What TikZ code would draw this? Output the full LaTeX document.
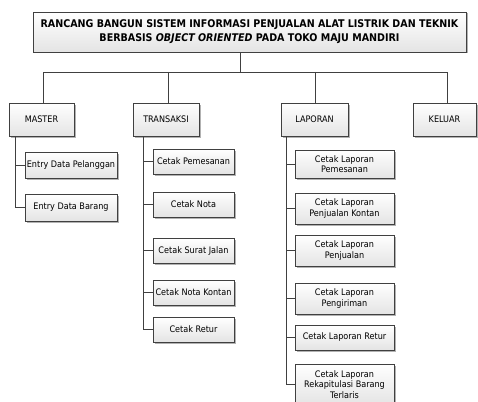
\documentclass[tikz,border=0pt]{standalone}
\usepackage{fontspec}
\setmainfont{DejaVu Sans Condensed}
\usetikzlibrary{shadows}
\definecolor{edge}{HTML}{404040}
\definecolor{boxbot}{HTML}{E4E4E4}
\begin{document}
\begin{tikzpicture}[x=1pt,y=-1pt,
  box/.style={draw=edge, line width=0.7pt, top color=white, bottom color=boxbot,
    drop shadow={shadow xshift=1.5pt, shadow yshift=-1.5pt, fill=black, opacity=0.3},
    align=center, inner sep=1pt, font=\fontsize{9}{10.5}\selectfont},
  titlebox/.style={box, font=\fontsize{10.6}{14}\selectfont\bfseries},
  link/.style={draw=edge, line width=0.7pt}]
\useasboundingbox (0,0) rectangle (478,401);

% title
\node[titlebox, minimum width=433pt, minimum height=40pt] (title) at (249.5,32)
  {RANCANG BANGUN SISTEM INFORMASI PENJUALAN ALAT LISTRIK DAN TEKNIK\\
   BERBASIS \textit{OBJECT ORIENTED} PADA TOKO MAJU MANDIRI};

% level 1
\node[box, minimum width=65pt, minimum height=33pt] (master) at (41.5,119.5) {MASTER};
\node[box, minimum width=66pt, minimum height=33pt] (trans) at (166,119.5) {TRANSAKSI};
\node[box, minimum width=67pt, minimum height=33pt] (lap) at (314.5,119.5) {LAPORAN};
\node[box, minimum width=63pt, minimum height=33pt] (kel) at (444.5,119.5) {KELUAR};

% bus
\coordinate (tj) at (240,72);
\coordinate (b1) at (43,72);
\coordinate (b2) at (168,72);
\coordinate (b3) at (315,72);
\coordinate (b4) at (447,72);
\draw[link] (title.south -| tj) -- (tj);
\draw[link] (master.north -| b1) -- (b1) -- (b4) -- (kel.north -| b4);
\draw[link] (b2) -- (trans.north -| b2);
\draw[link] (b3) -- (lap.north -| b3);

% master children
\node[box, minimum width=92pt, minimum height=26pt] (edp) at (71,165) {Entry Data Pelanggan};
\node[box, minimum width=92pt, minimum height=27pt] (edb) at (71,207.5) {Entry Data Barang};
\coordinate (mv) at (15,136);
\draw[link] (master.south -| mv) |- (edb.west);
\draw[link] (mv |- edp.west) -- (edp.west);

% transaksi children
\node[box, minimum width=81pt, minimum height=25pt] (tp) at (193.5,161.5) {Cetak Pemesanan};
\node[box, minimum width=81pt, minimum height=25pt] (tn) at (193.5,204.5) {Cetak Nota};
\node[box, minimum width=81pt, minimum height=25pt] (ts) at (193.5,250.5) {Cetak Surat Jalan};
\node[box, minimum width=81pt, minimum height=25pt] (tk) at (193.5,292.5) {Cetak Nota Kontan};
\node[box, minimum width=81pt, minimum height=25pt] (tr) at (193.5,329.5) {Cetak Retur};
\coordinate (tv) at (143,136);
\draw[link] (trans.south -| tv) |- (tr.west);
\draw[link] (tv |- tp.west) -- (tp.west);
\draw[link] (tv |- tn.west) -- (tn.west);
\draw[link] (tv |- ts.west) -- (ts.west);
\draw[link] (tv |- tk.west) -- (tk.west);

% laporan children
\node[box, minimum width=99pt, minimum height=28pt] (lp) at (344.5,164) {Cetak Laporan\\Pemesanan};
\node[box, minimum width=99pt, minimum height=31pt] (lk) at (344.5,208.5) {Cetak Laporan\\Penjualan Kontan};
\node[box, minimum width=99pt, minimum height=31pt] (lj) at (344.5,250.5) {Cetak Laporan\\Penjualan};
\node[box, minimum width=99pt, minimum height=31pt] (lg) at (344.5,298.5) {Cetak Laporan\\Pengiriman};
\node[box, minimum width=99pt, minimum height=25pt] (lr) at (344.5,337.5) {Cetak Laporan Retur};
\node[box, minimum width=99pt, minimum height=41pt] (lx) at (344.5,384.5) {Cetak Laporan\\Rekapitulasi Barang\\Terlaris};
\coordinate (lv) at (286,136);
\draw[link] (lap.south -| lv) |- (lx.west);
\draw[link] (lv |- lp.west) -- (lp.west);
\draw[link] (lv |- lk.west) -- (lk.west);
\draw[link] (lv |- lj.west) -- (lj.west);
\draw[link] (lv |- lg.west) -- (lg.west);
\draw[link] (lv |- lr.west) -- (lr.west);
\end{tikzpicture}
\end{document}
